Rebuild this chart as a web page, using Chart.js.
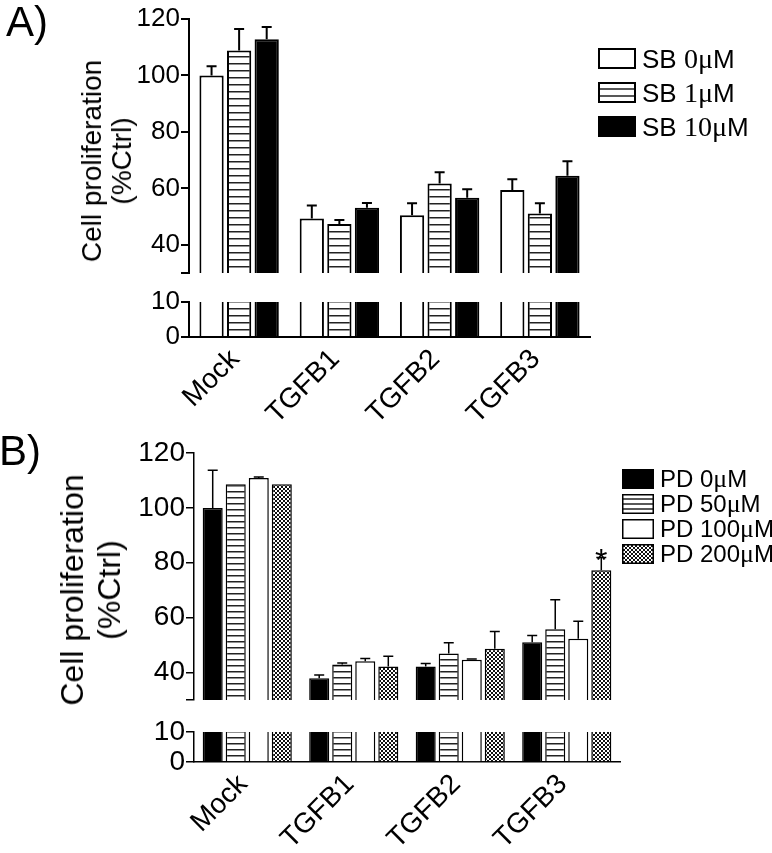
<!DOCTYPE html>
<html>
<head>
<meta charset="utf-8">
<script src="https://cdn.jsdelivr.net/npm/chart.js@4.4.0/dist/chart.umd.min.js"></script>
<style>
  body { margin: 0; background: #fff; width: 772px; height: 853px; position: relative; overflow: hidden;
         font-family: "Liberation Sans", Arial, sans-serif; color: #000; }
  .wrap { position: absolute; left: 0; width: 772px; }
  #wrapA { top: 0; height: 440px; }
  #wrapB { top: 425px; height: 428px; }
  .panel { position: absolute; font-size: 42px; line-height: 42px; }
  .ytitle { position: absolute; transform: translate(-50%, -50%) rotate(-90deg); text-align: center; white-space: nowrap; }
  .row { position: absolute; display: flex; align-items: center; white-space: nowrap; }
  .row canvas { margin-right: 6px; }
  .sr { font-family: "Liberation Serif", "Times New Roman", serif; font-size: 1.08em; }
</style>
</head>
<body>
<div class="wrap" id="wrapA"><canvas id="chartA"></canvas></div>
<div class="wrap" id="wrapB"><canvas id="chartB"></canvas></div>
<div class="panel" style="left:6px; top:1px;">A)</div>
<div class="panel" style="left:-1px; top:430px;">B)</div>
<div class="ytitle" style="left:107px; top:161px; font-size:28px; line-height:30px;">Cell proliferation<br>(%Ctrl)</div>
<div class="ytitle" style="left:91px; top:590px; font-size:32px; line-height:37px;">Cell proliferation<br>(%Ctrl)</div>
<div id="legendA"></div>
<div id="legendB"></div>

<script>
// categorias
var groups = ['Mock', 'TGFB1', 'TGFB2', 'TGFB3'];

// A) SB
var sbNames = ['SB 0μM', 'SB 1μM', 'SB 10μM'];
var sb0 = [100, 49.3, 50.5, 59.4];
var sb0Err = [3.3, 4.6, 4.2, 3.8];
var sb1 = [108.8, 47.4, 61.7, 51.1];
var sb1Err = [7.7, 1.4, 4.0, 3.6];
var sb10 = [112.8, 53.1, 56.7, 64.5];
var sb10Err = [4.4, 1.7, 3.0, 5.1];

// B) PD
var pdNames = ['PD 0μM', 'PD 50μM', 'PD 100μM', 'PD 200μM'];
var pd0 = [100, 37.9, 42.2, 51.0];
var pd0Err = [13.7, 1.2, 1.1, 2.5];
var pd50 = [108.6, 42.9, 46.9, 55.8];
var pd50Err = [0, 0.6, 4.0, 10.7];
var pd100 = [110.9, 44.1, 44.7, 52.3];
var pd100Err = [0.4, 1.0, 0.2, 6.4];
var pd200 = [108.6, 42.2, 48.7, 77.3];
var pd200Err = [0, 3.7, 6.3, 4.6];
var pd200Stars = ['', '', '', '*'];

// eje cortado: parte alta y parte baja
var upperRange = [30, 120];
var upperTicks = [40, 60, 80, 100, 120];
var lowerRange = [0, 10];
var lowerTicks = [0, 10];

var FONT = '"Liberation Sans", Arial, sans-serif';
Chart.defaults.font.family = FONT;
Chart.defaults.color = '#000';

var helper = document.createElement('canvas').getContext('2d');

function stripePattern(gap, lw) {
  var c = document.createElement('canvas');
  c.width = 8; c.height = gap;
  var g = c.getContext('2d');
  g.fillStyle = '#fff'; g.fillRect(0, 0, 8, gap);
  g.fillStyle = '#222'; g.fillRect(0, 0, 8, lw);
  return helper.createPattern(c, 'repeat');
}

function hatchPattern(size) {
  var c = document.createElement('canvas');
  c.width = size; c.height = size;
  var g = c.getContext('2d');
  g.fillStyle = '#fff'; g.fillRect(0, 0, size, size);
  g.strokeStyle = '#111'; g.lineWidth = 1;
  g.beginPath();
  g.moveTo(-1, -1); g.lineTo(size + 1, size + 1);
  g.moveTo(-1, size + 1); g.lineTo(size + 1, -1);
  g.stroke();
  return helper.createPattern(c, 'repeat');
}

function fillFor(kind, p) {
  if (kind === 'black') return '#000';
  if (kind === 'stripes') return stripePattern(p.stripeGap, 1.5);
  if (kind === 'hatch') return hatchPattern(4);
  return '#fff';
}

// barras de error (solo hacia arriba) y asterisco
var errorBars = {
  id: 'errorBars',
  afterDatasetsDraw: function(chart, args, o) {
    var ctx = chart.ctx;
    ctx.save();
    ctx.strokeStyle = '#000';
    ctx.fillStyle = '#000';
    ctx.lineWidth = o.width;
    chart.data.datasets.forEach(function(ds, di) {
      if (!ds.errors) return;
      var scale = chart.scales[ds.yAxisID];
      chart.getDatasetMeta(di).data.forEach(function(bar, i) {
        var e = ds.errors[i];
        var top = scale.getPixelForValue(ds.data[i][1] + e);
        if (e > 0) {
          ctx.beginPath();
          ctx.moveTo(bar.x, bar.y);
          ctx.lineTo(bar.x, top);
          ctx.moveTo(bar.x - o.cap, top);
          ctx.lineTo(bar.x + o.cap, top);
          ctx.stroke();
        }
        if (ds.stars && ds.stars[i]) {
          ctx.font = o.starFont;
          ctx.textAlign = 'center';
          ctx.textBaseline = 'alphabetic';
          ctx.fillText(ds.stars[i], bar.x, top + o.starShift);
        }
      });
    });
    ctx.restore();
  }
};

function buildChart(id, p) {
  var datasets = [];
  p.series.forEach(function(s, i) {
    var bg = fillFor(p.fills[i], p);
    datasets.push({
      label: p.names[i],
      data: s.values.map(function(v) { return [upperRange[0], v]; }),
      errors: s.err,
      stars: s.stars,
      yAxisID: 'yTop',
      stack: 's' + i,
      backgroundColor: bg,
      borderColor: '#000',
      borderWidth: { top: p.lw, left: p.lw, right: p.lw, bottom: 0 },
      borderSkipped: false
    });
    datasets.push({
      label: p.names[i],
      data: s.values.map(function(v) { return Math.min(v, lowerRange[1]); }),
      yAxisID: 'yBot',
      stack: 's' + i,
      backgroundColor: bg,
      borderColor: '#000',
      borderWidth: { top: 0, left: p.lw, right: p.lw, bottom: 0 },
      borderSkipped: false
    });
  });

  function fixWidth(s) { s.width = p.yWidth; }
  var tickFont = { family: FONT, size: p.tickFont };

  return new Chart(document.getElementById(id), {
    type: 'bar',
    data: { labels: groups, datasets: datasets },
    plugins: [errorBars],
    options: {
      responsive: true,
      maintainAspectRatio: false,
      animation: false,
      events: [],
      categoryPercentage: p.catPct,
      barPercentage: p.barPct,
      layout: { padding: { top: p.top, right: p.right, left: 0, bottom: 0 } },
      plugins: {
        legend: { display: false },
        tooltip: { enabled: false },
        errorBars: { width: p.lw, cap: 5, starFont: '32px ' + FONT, starShift: 13 }
      },
      scales: {
        x: {
          type: 'category',
          offset: true,
          grid: { display: false, drawTicks: false },
          border: { color: '#000', width: p.lw },
          ticks: { color: '#000', font: { family: FONT, size: p.xFont }, minRotation: 45, maxRotation: 45,
                   autoSkip: false, padding: p.xPad, labelOffset: -4 },
          afterFit: function(s) { s.height = p.xHeight; }
        },
        yBot: {
          type: 'linear', position: 'left', stack: 'v', stackWeight: p.weights[2], stacked: false,
          min: lowerRange[0], max: lowerRange[1],
          afterBuildTicks: function(s) { s.ticks = lowerTicks.map(function(v) { return { value: v }; }); },
          ticks: { color: '#000', font: tickFont, padding: 1, autoSkip: false },
          grid: { drawOnChartArea: false, color: '#000', lineWidth: p.lw, tickLength: 8 },
          border: { color: '#000', width: p.lw },
          afterFit: fixWidth
        },
        yGap: {
          type: 'linear', position: 'left', stack: 'v', stackWeight: p.weights[1], stacked: false,
          min: 0, max: 1,
          ticks: { display: false },
          grid: { display: false, drawTicks: false },
          border: { display: false },
          afterFit: fixWidth
        },
        yTop: {
          type: 'linear', position: 'left', stack: 'v', stackWeight: p.weights[0], stacked: false,
          min: upperRange[0], max: upperRange[1],
          afterBuildTicks: function(s) {
            s.ticks = [upperRange[0]].concat(upperTicks).map(function(v) { return { value: v }; });
          },
          ticks: { color: '#000', font: tickFont, padding: 1, autoSkip: false,
                   callback: function(v) { return upperTicks.indexOf(v) >= 0 ? v : ''; } },
          grid: { drawOnChartArea: false, color: '#000', lineWidth: p.lw, tickLength: 8 },
          border: { color: '#000', width: p.lw },
          afterFit: fixWidth
        }
      }
    }
  });
}

buildChart('chartA', {
  names: sbNames,
  fills: ['white', 'stripes', 'black'],
  series: [
    { values: sb0, err: sb0Err },
    { values: sb1, err: sb1Err },
    { values: sb10, err: sb10Err }
  ],
  top: 19, right: 182, yWidth: 189, xHeight: 103, weights: [254, 29, 35],
  catPct: 0.825, barPct: 0.88, lw: 2, stripeGap: 7, tickFont: 26, xFont: 28, xPad: 6
});

buildChart('chartB', {
  names: pdNames,
  fills: ['black', 'stripes', 'white', 'hatch'],
  series: [
    { values: pd0, err: pd0Err },
    { values: pd50, err: pd50Err },
    { values: pd100, err: pd100Err },
    { values: pd200, err: pd200Err, stars: pd200Stars }
  ],
  top: 28, right: 152, yWidth: 194, xHeight: 91, weights: [247, 32, 30],
  catPct: 0.865, barPct: 0.87, lw: 1.5, stripeGap: 6, tickFont: 28, xFont: 28, xPad: 6
});

// leyendas en HTML
function swatch(kind, w, h, lw, lines) {
  var c = document.createElement('canvas');
  c.width = w; c.height = h;
  var g = c.getContext('2d');
  g.fillStyle = kind === 'black' ? '#000' : (kind === 'hatch' ? hatchPattern(4) : '#fff');
  g.fillRect(0, 0, w, h);
  if (kind === 'stripes') {
    g.fillStyle = '#222';
    for (var k = 1; k <= lines; k++) {
      g.fillRect(0, Math.round(h * k / (lines + 1)) - 0.75, w, 1.5);
    }
  }
  g.strokeStyle = '#000';
  g.lineWidth = lw;
  g.strokeRect(lw / 2, lw / 2, w - lw, h - lw);
  return c;
}

function labelHTML(name, serifDigits) {
  var m = name.match(/^(\D+ )(\d+)(μ)(M)$/);
  if (!m) return name;
  if (serifDigits) return m[1] + '<span class="sr">' + m[2] + m[3] + '</span>' + m[4];
  return m[1] + m[2] + '<span class="sr">' + m[3] + '</span>' + m[4];
}

function buildLegend(hostId, names, kinds, o) {
  var host = document.getElementById(hostId);
  names.forEach(function(name, i) {
    var row = document.createElement('div');
    row.className = 'row';
    row.style.left = o.left + 'px';
    row.style.top = o.tops[i] + 'px';
    row.style.height = o.h + 'px';
    row.style.fontSize = o.font + 'px';
    row.appendChild(swatch(kinds[i], o.w, o.h, o.lw, o.lines));
    var span = document.createElement('span');
    span.innerHTML = labelHTML(name, o.serifDigits);
    row.appendChild(span);
    host.appendChild(row);
  });
}

buildLegend('legendA', sbNames, ['white', 'stripes', 'black'],
  { left: 598, tops: [48, 82, 116], w: 38, h: 21, lw: 2, lines: 2, font: 26, serifDigits: true });
buildLegend('legendB', pdNames, ['black', 'stripes', 'white', 'hatch'],
  { left: 622, tops: [469, 494, 519, 544], w: 32, h: 20, lw: 1.5, lines: 3, font: 24, serifDigits: false });
</script>
</body>
</html>
